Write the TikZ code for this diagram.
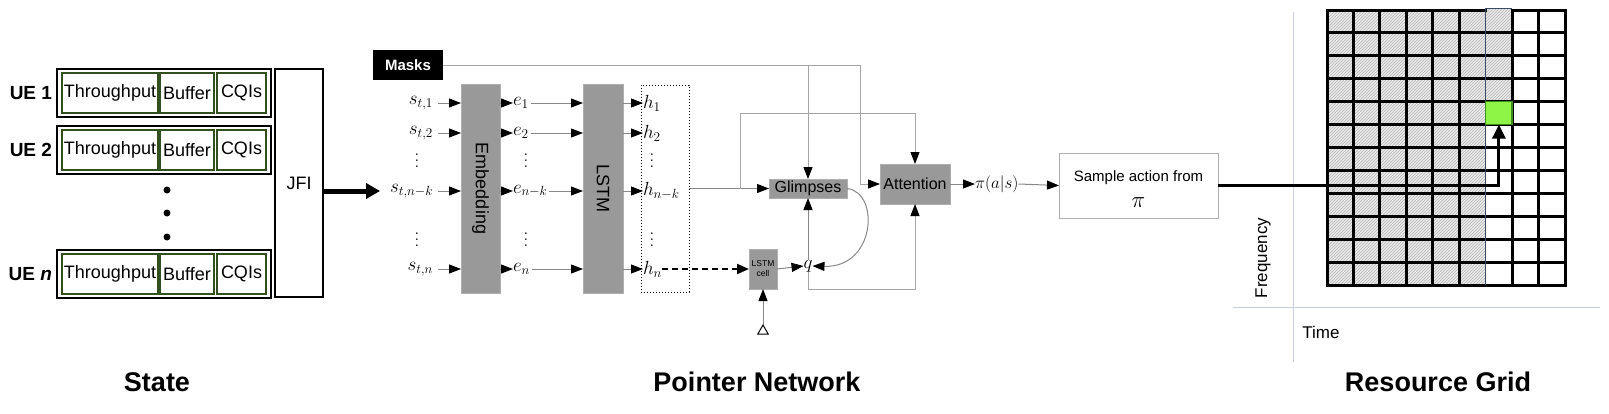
\RequirePackage{fix-cm}
\documentclass[tikz,border=0pt]{standalone}
\usepackage{graphicx}
\usepackage{fontspec}
\setmainfont{Liberation Sans}
\usetikzlibrary{arrows.meta,shapes.geometric,patterns,calc}
\definecolor{boxgray}{RGB}{153,153,153}
\definecolor{boxedge}{RGB}{175,175,175}
\definecolor{linegray}{RGB}{135,135,135}
\definecolor{lightline}{RGB}{165,165,165}
\definecolor{uegreen}{RGB}{50,80,30}
\definecolor{axisblue}{RGB}{200,208,222}
\definecolor{cellgreen}{RGB}{142,245,71}
\definecolor{hatchbg}{RGB}{232,232,232}
\definecolor{hatchline}{RGB}{185,185,185}
\definecolor{thinblue}{RGB}{60,75,100}
\newcommand\myvdots{\vbox{\baselineskip=6pt\lineskiplimit=0pt\hbox{$.$}\hbox{$.$}\hbox{$.$}}}
\begin{document}
\begin{tikzpicture}[x=1pt,y=-1pt,
  every node/.style={inner sep=0pt,outer sep=0pt},
  uebox/.style={draw,line width=2.5pt,minimum width=214,minimum height=48},
  fieldbox/.style={draw=uegreen,line width=1.2pt,minimum height=40,font=\fontsize{18}{21}\selectfont},
  uelab/.style={anchor=east,font=\fontsize{19}{22}\selectfont\bfseries},
  bigdot/.style={circle,fill=black,minimum size=7},
  graybox/.style={fill=boxgray,draw=boxedge,line width=0.8pt},
  mlab/.style={font=\fontsize{19}{22}\selectfont},
  plab/.style={font=\fontsize{17}{20}\selectfont},
  plain/.style={draw=linegray,line width=1pt},
  arr/.style={draw=linegray,line width=1pt,-{Triangle[length=12pt,width=9pt,color=black]}},
  larr/.style={draw=lightline,line width=1pt,-{Triangle[length=12pt,width=9pt,color=black]}},
  title/.style={font=\fontsize{27}{30}\selectfont\bfseries},
  gridline/.style={line width=3pt,line cap=rect}
]
\useasboundingbox (0,0) rectangle (1609,413);

% ---------------- State ----------------
\foreach \nm/\yc/\lab in {1/93/{UE 1},2/150/{UE 2},n/274/{UE \textit{n}}}{
  \node[uebox] (ue\nm) at (164,\yc) {};
  \node[fieldbox,minimum width=96] (tp\nm) at (110,\yc) {Throughput};
  \node[fieldbox,minimum width=54] (bf\nm) at (187,\yc) {Buffer};
  \node[fieldbox,minimum width=49] (cq\nm) at (241.5,\yc) {CQIs};
  \node[uelab] (lab\nm) at (52,\yc) {\lab};
}
\node[bigdot] (d1) at (167,190) {};
\node[bigdot] (d2) at (167,213) {};
\node[bigdot] (d3) at (167,237) {};
\node[draw,line width=2.5pt,minimum width=48,minimum height=228,font=\fontsize{18}{21}\selectfont] (jfi) at (299,183) {JFI};

% ---------------- Pointer network ----------------
\node[fill=black,text=white,minimum width=70,minimum height=30,font=\fontsize{15}{18}\selectfont\bfseries] (masks) at (408,65) {Masks};

\node[graybox,minimum width=39,minimum height=209,font=\fontsize{18}{21}\selectfont] (emb) at (480.5,188.5) {\rotatebox{-90}{Embedding}};
\node[graybox,minimum width=40,minimum height=209,font=\fontsize{18}{21}\selectfont] (lstm) at (603,188.5) {\rotatebox{-90}{LSTM}};
\node[draw,dotted,line width=1pt,minimum width=48,minimum height=207] (hbox) at (665,188.5) {};

\foreach \nm/\yc/\sub in {1/103/{1},2/133/{2},nk/191/{n-k},n/269/{n}}{
  \node[mlab,anchor=east] (s\nm) at (433,\yc) {$s_{t,\sub}$};
  \node[mlab,anchor=west] (e\nm) at (513,\yc) {$e_{\sub}$};
  \node[mlab,anchor=west] (h\nm) at (643,\yc) {$h_{\sub}$};
  \draw[arr,shorten <=5pt] (s\nm.east) -- (s\nm.east -| emb.west);
  \draw[arr] (e\nm.west -| emb.east) -- (e\nm.west);
  \draw[arr,shorten <=2pt] (e\nm.east) -- (e\nm.east -| lstm.west);
  \draw[arr] (h\nm.west -| lstm.east) -- (h\nm.west);
}
\foreach \nm/\xc in {s/417,e/526,h/652}{
  \node[plab] (\nm dotsA) at (\xc,161) {\myvdots};
  \node[plab] (\nm dotsB) at (\xc,240) {\myvdots};
}

\draw[line width=5pt,-{Triangle[length=14pt,width=15pt]},shorten >=10pt] (jfi.east |- snk.west) -- (snk.west);

\node[graybox,minimum width=78,minimum height=19,font=\fontsize{16}{19}\selectfont] (glimpses) at (808,188.5) {Glimpses};
\node[graybox,minimum width=70,minimum height=40,font=\fontsize{16}{19}\selectfont] (attention) at (915,184) {Attention};
\node[graybox,minimum width=28,minimum height=40,align=center,font=\fontsize{8.5}{10}\selectfont] (cell) at (763,269) {LSTM\\cell};
\node[mlab] (q) at (808,266) {$q$};
\node[regular polygon,regular polygon sides=3,draw,line width=1pt,minimum size=12] (tri) at (763,331) {};

\coordinate (mk) at (860,65);
\coordinate (br) at (740,113);
\coordinate (qb) at (808,289);

\draw[larr] (masks.east) -- (mk) |- (attention.west);
\draw[larr] (masks.east -| glimpses.north) -- (glimpses.north);
\draw[arr] (hbox.east) -- (glimpses.west);
\draw[larr] (br |- glimpses.west) -- (br) -| (attention.north);
\draw[line width=2pt,dash pattern=on 6pt off 4pt,-{Triangle[length=12pt,width=10pt]}] (hn.east) -- (cell.west);
\draw[arr] (cell.east) -- (q.west);
\draw[arr] (q.north) -- (glimpses.south);
\draw[larr] (q.south) -- (qb) -| (attention.south);
\draw[arr] (glimpses.east) .. controls (880,192) and (876,268) .. (q.east);
\draw[arr] (tri.corner 1) -- (cell.south);

\node[plab,anchor=west] (pi) at (975,184) {$\pi(a|s)$};
\draw[arr] (attention.east) -- (pi.west);

\node[draw=boxedge,line width=1pt,minimum width=159,minimum height=65] (sample) at (1138.5,185.5) {};
\node[font=\fontsize{15}{18}\selectfont] (sampletxt) at (1138.5,178) {Sample action from};
\node[font=\fontsize{23}{26}\selectfont] (samplepi) at (1138.5,203) {$\pi$};
\draw[arr] (pi.east) -- (sample.west);

% ---------------- Resource grid ----------------
\draw[axisblue,line width=1pt] (1293,12) -- (1293,362);
\draw[axisblue,line width=1pt] (1233,307) -- (1600,307);
\node[font=\fontsize{17}{20}\selectfont,rotate=90] (freq) at (1263,258) {Frequency};
\node[font=\fontsize{17}{20}\selectfont] (time) at (1321,332) {Time};

\fill[hatchbg] (1327,10) rectangle (1485.67,285);
\fill[pattern=north east lines,pattern color=hatchline] (1327,10) rectangle (1485.67,285);
\fill[hatchbg] (1485.67,8) rectangle (1512.11,101.67);
\fill[pattern=north east lines,pattern color=hatchline] (1485.67,8) rectangle (1512.11,101.67);
\foreach \i in {0,...,5,7,8,9}{
  \draw[gridline] ({1327+\i*26.444},10) -- ({1327+\i*26.444},285);
}
\foreach \j in {1,...,12}{
  \draw[gridline] (1327,{10+\j*22.917}) -- (1565,{10+\j*22.917});
}
\draw[gridline] (1327,10) -- (1485.67,10);
\draw[gridline] (1512.11,10) -- (1565,10);
\draw[thinblue,line width=1pt] (1485.67,8) -- (1485.67,285);
\draw[thinblue,line width=1pt] (1485.67,8) -- (1512.11,8);
\node[fill=cellgreen,draw={rgb,255:red,60;green,140;blue,30},line width=1.5pt,minimum width=26.4,minimum height=22.9] (green) at (1498.9,113.1) {};
\draw[line width=3pt,-{Triangle[length=14pt,width=13pt]}] (sample.east) -| (green.south);

% ---------------- Titles ----------------
\node[title] (tstate) at (157,382) {State};
\node[title] (tpointer) at (757,382) {Pointer Network};
\node[title] (tgrid) at (1438,382) {Resource Grid};
\end{tikzpicture}
\end{document}
